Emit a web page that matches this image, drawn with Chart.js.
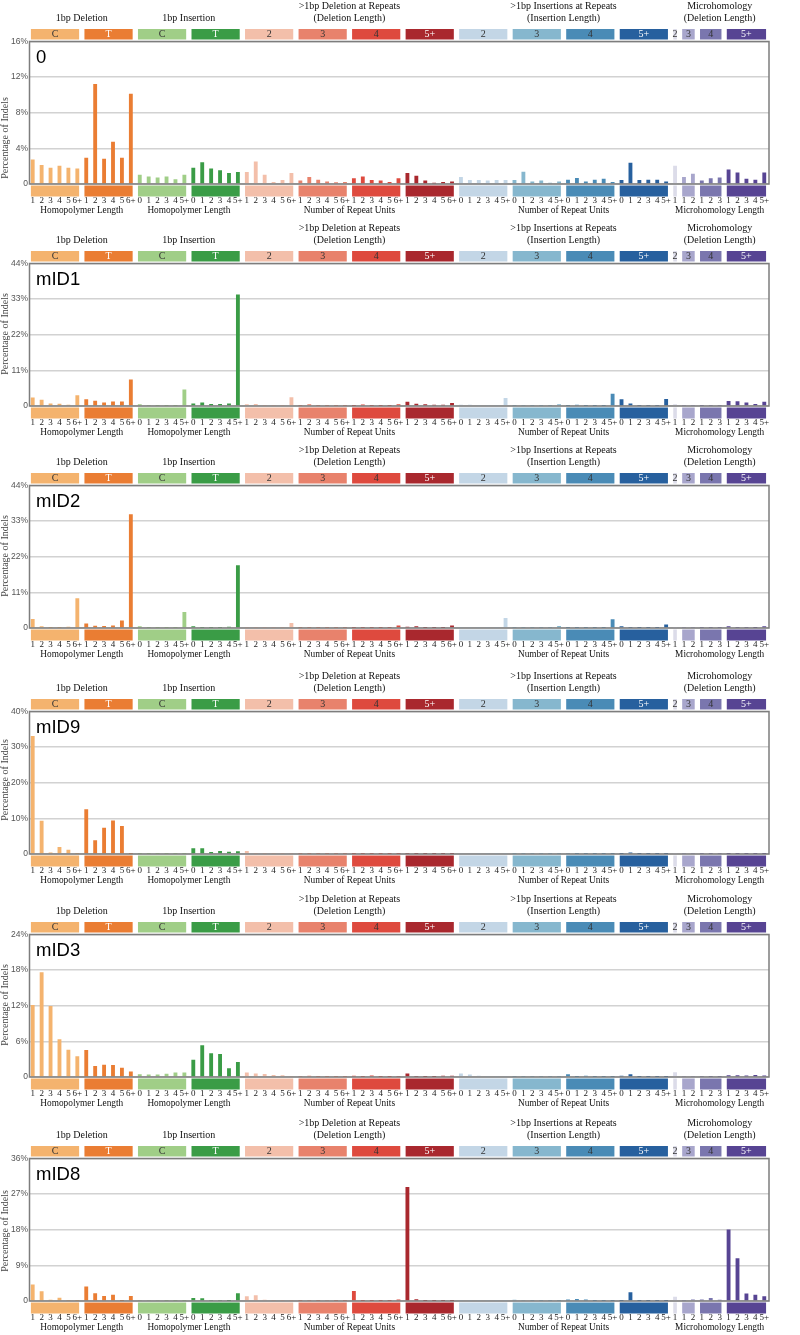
<!DOCTYPE html>
<html><head><meta charset="utf-8">
<script src="https://cdn.jsdelivr.net/npm/chart.js@4"></script>
<style>
html,body{margin:0;padding:0;background:#fff;}
body{width:800px;height:1335px;overflow:hidden;position:relative;}
canvas{position:absolute;left:0;}
</style></head>
<body>
<script>
// ---------- data ----------
const tickLabels = [
 '1','2','3','4','5','6+', '1','2','3','4','5','6+',
 '0','1','2','3','4','5+', '0','1','2','3','4','5+',
 '1','2','3','4','5','6+', '1','2','3','4','5','6+', '1','2','3','4','5','6+', '1','2','3','4','5','6+',
 '0','1','2','3','4','5+', '0','1','2','3','4','5+', '0','1','2','3','4','5+', '0','1','2','3','4','5+',
 '1', '1','2', '1','2','3', '1','2','3','4','5+'
];
const groupLabels = ['C','T','C','T','2','3','4','5+','2','3','4','5+','2','3','4','5+'];
const groupSizes  = [6,6,6,6,6,6,6,6,6,6,6,6,1,2,3,5];
const sectionTitles = [['','1bp Deletion'],['','1bp Insertion'],['>1bp Deletion at Repeats','(Deletion Length)'],['>1bp Insertions at Repeats','(Insertion Length)'],['Microhomology','(Deletion Length)']];
const sectionGroups = [[0,1],[2,3],[4,7],[8,11],[12,15]];
const sectionAxisLabels = ['Homopolymer Length','Homopolymer Length','Number of Repeat Units','Number of Repeat Units','Microhomology Length'];
const panelNames = ['0','mID1','mID2','mID9','mID3','mID8'];
const yMax = [16,44,44,40,24,36];

const sig0 = [
 2.7,2.1,1.8,2.0,1.8,1.7,
 2.9,11.2,2.8,4.7,2.9,10.1,
 1.0,0.8,0.7,0.8,0.5,1.0,
 1.8,2.4,1.7,1.5,1.2,1.3,
 1.3,2.5,1.0,0.2,0.4,1.2,
 0.35,0.75,0.45,0.25,0.15,0.2,
 0.6,0.8,0.4,0.35,0.2,0.6,
 1.2,0.9,0.35,0.1,0.2,0.25,
 0.75,0.4,0.4,0.35,0.4,0.4,
 0.4,1.35,0.25,0.35,0.1,0.25,
 0.45,0.65,0.25,0.45,0.55,0.2,
 0.4,2.35,0.4,0.45,0.45,0.25,
 2.0,
 0.75,1.1,
 0.35,0.6,0.7,
 1.6,1.25,0.55,0.45,1.25];
const mID1 = [
 2.5,1.85,0.7,0.6,0.3,3.2,
 1.95,1.5,1.0,1.3,1.3,8.1,
 0.4,0.2,0.1,0.05,0.1,5.0,
 0.7,1.0,0.5,0.5,0.7,34.3,
 0.4,0.5,0.1,0.05,0.1,2.6,
 0.1,0.4,0.05,0.05,0.05,0.05,
 0.05,0.35,0.05,0.05,0.05,0.45,
 1.2,0.6,0.4,0.3,0.3,0.8,
 0.3,0.3,0.1,0.05,0.05,2.4,
 0.05,0.2,0.05,0.05,0.05,0.4,
 0.05,0.3,0.05,0.05,0.05,3.7,
 1.95,0.7,0.2,0.15,0.15,2.05,
 0.4,
 0.05,0.05,
 0.1,0.15,0.2,
 1.45,1.35,1.0,0.5,1.2];
const mID2 = [
 2.7,0.4,0.1,0.1,0.3,9.1,
 1.25,0.6,0.5,0.7,2.2,35.0,
 0.4,0.05,0.05,0.05,0.05,4.8,
 0.4,0.2,0.15,0.15,0.25,19.3,
 0.2,0.1,0.05,0.05,0.05,1.45,
 0.1,0.05,0.05,0.05,0.05,0.05,
 0.05,0.05,0.05,0.05,0.05,0.7,
 0.3,0.4,0.1,0.1,0.05,0.7,
 0.05,0.05,0.05,0.05,0.05,3.0,
 0.05,0.05,0.05,0.05,0.05,0.5,
 0.05,0.05,0.05,0.05,0.05,2.6,
 0.4,0.2,0.05,0.05,0.05,1.0,
 0.05,
 0.05,0.05,
 0.05,0.05,0.05,
 0.4,0.2,0.2,0.1,0.4];
const mID9 = [
 33.0,9.25,0.3,1.9,1.1,0.05,
 12.5,3.8,7.3,9.3,7.8,0.1,
 0.05,0.05,0.05,0.05,0.05,0.05,
 1.5,1.5,0.5,0.75,0.55,0.65,
 0.75,0.1,0.05,0.05,0.05,0.05,
 0.05,0.1,0.05,0.05,0.05,0.05,
 0.05,0.05,0.05,0.05,0.05,0.05,
 0.15,0.05,0.05,0.05,0.05,0.1,
 0.2,0.2,0.1,0.05,0.05,0.1,
 0.05,0.05,0.05,0.05,0.05,0.05,
 0.2,0.05,0.05,0.05,0.05,0.05,
 0.05,0.35,0.05,0.05,0.05,0.05,
 0.05,
 0.05,0.05,
 0.1,0.1,0.15,
 0.05,0.05,0.1,0.05,0.05];
const mID3 = [
 12.05,17.6,11.9,6.3,4.55,3.45,
 4.5,1.8,2.0,1.95,1.5,0.85,
 0.4,0.35,0.35,0.5,0.7,0.7,
 2.85,5.3,3.95,3.8,1.4,2.45,
 0.7,0.55,0.45,0.3,0.25,0.1,
 0.1,0.15,0.05,0.05,0.05,0.05,
 0.15,0.05,0.2,0.05,0.05,0.1,
 0.55,0.1,0.05,0.05,0.15,0.15,
 0.55,0.35,0.15,0.1,0.1,0.1,
 0.05,0.05,0.05,0.05,0.05,0.05,
 0.4,0.05,0.15,0.05,0.05,0.05,
 0.15,0.4,0.05,0.05,0.05,0.05,
 0.75,
 0.1,0.1,
 0.1,0.05,0.05,
 0.25,0.25,0.2,0.3,0.2];
const mID8 = [
 4.1,2.35,0.25,0.75,0.15,0.1,
 3.6,1.85,1.2,1.5,0.1,1.2,
 0.2,0.2,0.2,0.05,0.05,0.05,
 0.65,0.6,0.2,0.2,0.1,1.85,
 1.1,1.35,0.25,0.05,0.05,0.1,
 0.1,0.15,0.1,0.2,0.1,0.05,
 2.45,0.1,0.1,0.05,0.1,0.3,
 28.7,0.35,0.05,0.05,0.05,0.05,
 0.05,0.05,0.05,0.05,0.05,0.1,
 0.25,0.2,0.05,0.05,0.05,0.05,
 0.3,0.45,0.3,0.05,0.1,0.05,
 0.05,2.1,0.05,0.05,0.05,0.05,
 1.0,
 0.05,0.35,
 0.3,0.7,0.25,
 18.0,10.7,1.8,1.5,1.1];
const panelSeries = [sig0, mID1, mID2, mID9, mID3, mID8];

// ---------- styles ----------
const groupColors = ['#F4B36E','#EA7D33','#A0CE87','#3A9C46','#F3BFAA','#E8826C','#DE4A3E','#A9282E',
                     '#C3D6E6','#86B7CE','#4A8BB6','#27609E','#DCDCE9','#A8A6CC','#7A76AE','#574493'];
const groupTextColors = ['#333','#fff','#333','#fff','#333','#333','#333','#fff',
                         '#333','#333','#333','#fff','#333','#333','#333','#fff'];
const panelTops = [0,222,444,670,893,1117];
const yTitleCenter = [138,112,112,110,112,114];
const SERIF = '"Liberation Serif","Times New Roman",serif';
const SANS = '"Liberation Sans",Arial,sans-serif';

const barColors = [];
groupSizes.forEach((n,g)=>{ for(let k=0;k<n;k++) barColors.push(groupColors[g]); });

function makeDecor(p){
  return {
    id:'decor'+p,
    afterDraw(chart){
      const ctx = chart.ctx, xs = chart.scales.x, ca = chart.chartArea;
      ctx.save();
      ctx.strokeStyle = '#7d7d7d'; ctx.lineWidth = 1.5;
      ctx.strokeRect(ca.left, ca.top, ca.right-ca.left, ca.bottom-ca.top);
      const gx = [];
      let idx = 0;
      ctx.textAlign = 'center'; ctx.textBaseline = 'middle';
      groupSizes.forEach((n,g)=>{
        const x1 = xs.getPixelForValue(idx)-1.8, x2 = xs.getPixelForValue(idx+n-1)+1.8;
        gx.push([x1,x2]);
        ctx.fillStyle = groupColors[g];
        ctx.fillRect(x1, 29, x2-x1, 10.5);
        ctx.fillRect(x1, 185.5, x2-x1, 11);
        ctx.fillStyle = groupTextColors[g];
        ctx.font = '10px ' + SERIF;
        ctx.fillText(groupLabels[g], (x1+x2)/2, 34.6);
        idx += n;
      });
      ctx.fillStyle = '#222';
      ctx.font = '9px ' + SERIF;
      tickLabels.forEach((t,i)=>{ ctx.fillText(t, xs.getPixelForValue(i), 201); });
      sectionGroups.forEach((sg,s)=>{
        const cx = (gx[sg[0]][0] + gx[sg[1]][1]) / 2;
        ctx.fillStyle = '#111';
        ctx.font = '10px ' + SERIF;
        if (sectionTitles[s][0]) ctx.fillText(sectionTitles[s][0], cx, 6.5);
        ctx.fillText(sectionTitles[s][1], cx, 18);
        ctx.font = '9.3px ' + SERIF;
        ctx.fillText(sectionAxisLabels[s], cx, 211);
      });
      // y title
      ctx.save();
      ctx.translate(5.5, yTitleCenter[p]);
      ctx.rotate(-Math.PI/2);
      ctx.fillStyle = '#444';
      ctx.font = '10px ' + SERIF;
      ctx.fillText('Percentage of Indels', 0, 0);
      ctx.restore();
      // panel name
      ctx.textAlign = 'left'; ctx.textBaseline = 'alphabetic';
      ctx.fillStyle = '#000';
      ctx.font = '18.5px ' + SANS;
      ctx.fillText(panelNames[p], 36, 62.5);
      ctx.restore();
    }
  };
}

panelNames.forEach((name,p)=>{
  const cv = document.createElement('canvas');
  cv.width = 800; cv.height = 222;
  cv.style.top = panelTops[p] + 'px';
  cv.style.width = '800px'; cv.style.height = '222px';
  document.body.appendChild(cv);
  const vals = panelSeries[p];
  new Chart(cv, {
    type:'bar',
    data:{ datasets:[{ data: vals.map((v,i)=>({x:i,y:v})), backgroundColor: barColors, barThickness: 3.2, borderWidth:0 }] },
    options:{
      responsive:false, animation:false, devicePixelRatio:1,
      layout:{ padding:{ left:0, right:31, top:41.5, bottom:38 } },
      plugins:{ legend:{display:false}, tooltip:{enabled:false} },
      scales:{
        x:{ type:'linear', min:-0.36, max:82.53, offset:false, display:false, grid:{display:false} },
        y:{ min:0, max:yMax[p],
            afterFit(s){ s.width = 29.5; },
            border:{display:false},
            grid:{ color:'#d2d2d2', lineWidth:1.5, drawTicks:false },
            ticks:{ stepSize:yMax[p]/4, padding:1.5, color:'#555', font:{family:SANS, size:8.5},
                    callback:(v)=> v===0 ? '0' : v + '%' } }
      }
    },
    plugins:[makeDecor(p)]
  });
});
</script>
</body></html>
